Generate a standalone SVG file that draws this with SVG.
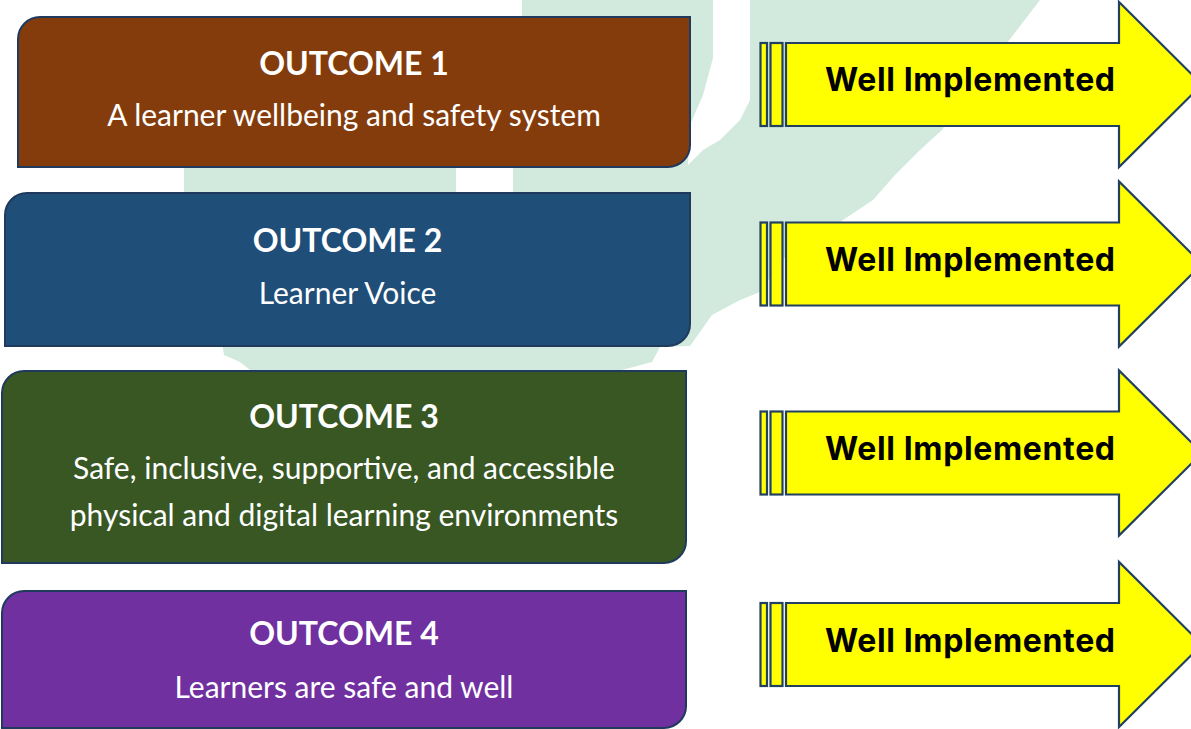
<svg xmlns="http://www.w3.org/2000/svg" width="1191" height="729" viewBox="0 0 1191 729">
<style>
.box{stroke:#1f3a5c;stroke-width:2}
.title{font-family:Lato,"Open Sans",sans-serif;font-weight:700;font-size:32px;fill:#ffffff;text-anchor:middle}
.sub{font-family:Lato,"Open Sans",sans-serif;font-size:30px;fill:#ffffff;text-anchor:middle}
.bar,.arrow{fill:#ffff00;stroke:#22405f;stroke-width:2.2;stroke-linejoin:miter}
.lbl{font-family:Inter,Roboto,sans-serif;font-weight:700;font-size:32px;fill:#000000;text-anchor:middle}
.wm{fill:#d2e9dd;fill-rule:evenodd}
</style>
<defs>
<g id="arrowShape">
<rect class="bar" x="760.5" y="-41.5" width="6.5" height="83"/>
<rect class="bar" x="770.5" y="-41.5" width="12" height="83"/>
<path class="arrow" d="M786,-41.5 L1119,-41.5 L1119,-82.5 L1202,0 L1119,82.5 L1119,41.5 L786,41.5 Z"/>
</g>
</defs>
<rect width="1191" height="729" fill="#ffffff"/>
<g id="watermark">
<path class="wm" d="M522,0 L713,0 L713,58 L703,95 L690,125 L688,165 L703,150 L720,140 L740,120 L750,100 L750,0 L1040,0 L1017,30 L990,65 L960,100 L942,130 L920,150 L895,175 L873,200 L840,222 L790,250 L760,292 L740,300 L712,315 L700,332 L690,346 L660,347 L652,362 L622,370 L250,370 L240,362 L224,355 L215,300 L184,195 L184,167 L300,100 L522,30 Z M456,160 L513,160 L513,200 L456,200 Z"/>
</g>
<g id="connectors"></g>
<g id="outcome1">
<path class="box" fill="#843c0c" d="M18,39 A22,22 0 0 1 40,17 L690,17 L690,145 A22,22 0 0 1 668,167 L18,167 Z"/>
<text class="title" x="354" y="74.5">OUTCOME 1</text>
<text class="sub" x="354" y="126">A learner wellbeing and safety system</text>
</g>
<g id="outcome2">
<path class="box" fill="#1f4e79" d="M5,215 A22,22 0 0 1 27,193 L690,193 L690,324 A22,22 0 0 1 668,346 L5,346 Z"/>
<text class="title" x="347.5" y="252">OUTCOME 2</text>
<text class="sub" x="347.5" y="303.5">Learner Voice</text>
</g>
<g id="outcome3">
<path class="box" fill="#385723" d="M2,393 A22,22 0 0 1 24,371 L686,371 L686,541 A22,22 0 0 1 664,563 L2,563 Z"/>
<text class="title" x="344" y="428">OUTCOME 3</text>
<text class="sub" x="344" y="478.5">Safe, inclusive, supportive, and accessible</text>
<text class="sub" x="344" y="526">physical and digital learning environments</text>
</g>
<g id="outcome4">
<path class="box" fill="#7030a0" d="M2,613 A22,22 0 0 1 24,591 L686,591 L686,706 A22,22 0 0 1 664,728 L2,728 Z"/>
<text class="title" x="344" y="645">OUTCOME 4</text>
<text class="sub" x="344" y="697.5">Learners are safe and well</text>
</g>
<g id="status1">
<use href="#arrowShape" transform="translate(0,84.5)"/>
<text class="lbl" x="970" y="91" textLength="290" lengthAdjust="spacing">Well Implemented</text>
</g>
<g id="status2">
<use href="#arrowShape" transform="translate(0,264)"/>
<text class="lbl" x="970" y="270.5" textLength="290" lengthAdjust="spacing">Well Implemented</text>
</g>
<g id="status3">
<use href="#arrowShape" transform="translate(0,453)"/>
<text class="lbl" x="970" y="459.5" textLength="290" lengthAdjust="spacing">Well Implemented</text>
</g>
<g id="status4">
<use href="#arrowShape" transform="translate(0,644.5)"/>
<text class="lbl" x="970" y="651.5" textLength="290" lengthAdjust="spacing">Well Implemented</text>
</g>
</svg>
